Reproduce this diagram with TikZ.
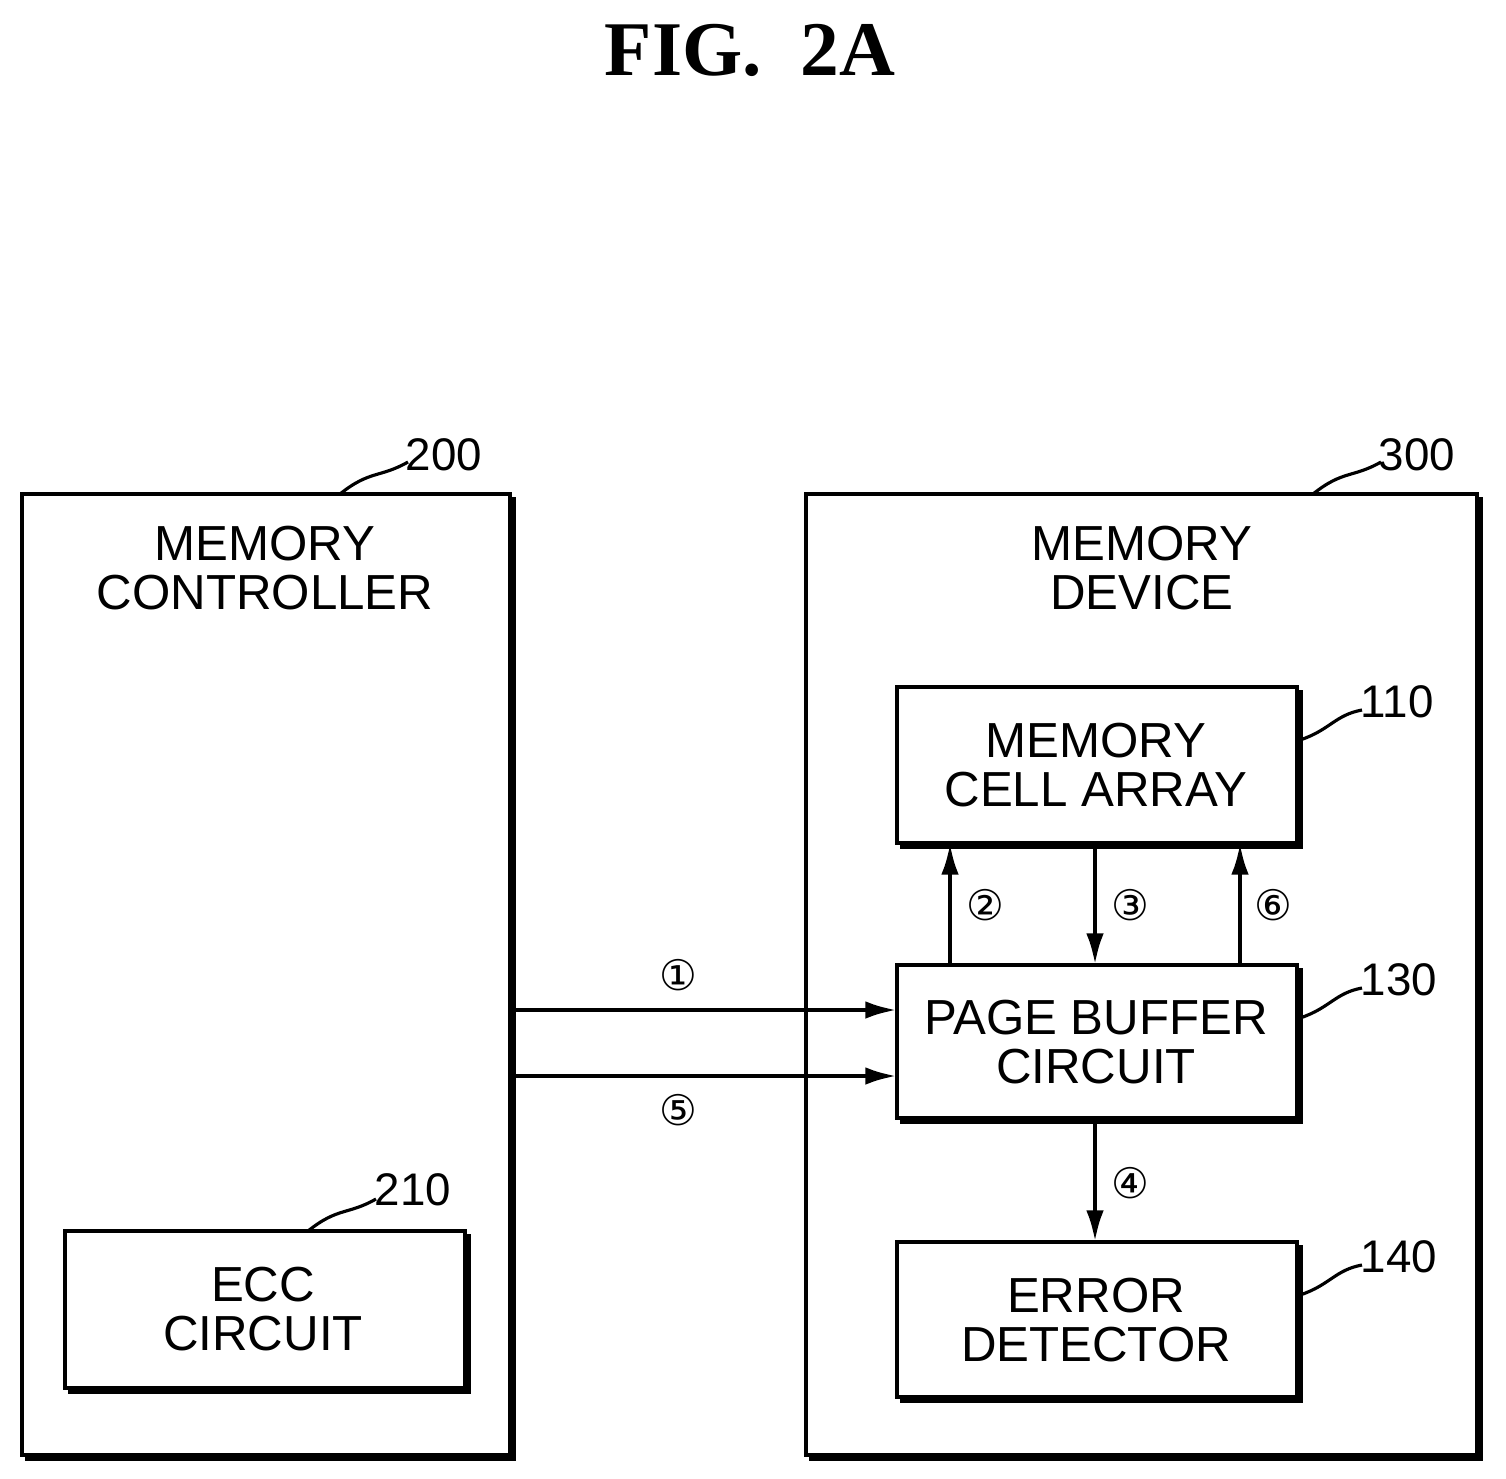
\documentclass[tikz,border=0pt]{standalone}
\usepackage{fontspec}
\setmainfont{Liberation Sans}
\newfontfamily\sym{DejaVu Sans}
\newfontfamily\ttl{Liberation Serif}
\usetikzlibrary{arrows.meta}
\begin{document}
\begin{tikzpicture}[x=0.01cm,y=-0.01cm,
  lbl/.style={font=\fontsize{14}{16}\selectfont,align=center,inner sep=0},
  ref/.style={font=\fontsize{13}{15}\selectfont,inner sep=0},
  num/.style={font=\sym\fontsize{12}{14}\selectfont,inner sep=0},
  ln/.style={line width=1.3pt},
  arr/.style={ln,-{Latex[length=9pt,width=5pt]}},
  lead/.style={line width=0.9pt}]
\useasboundingbox (0,0) rectangle (1506,1479);
\newcommand{\shbox}[5]{% name, x1,y1,x2,y2
  \draw[ln] (#2,#3) rectangle (#4,#5);
  \draw[line width=2.2pt] (#4+2,#3+3) -- (#4+2,#5+2) -- (#2+3,#5+2);
  \coordinate (#1) at (#2,#3);}
\node[font=\ttl\bfseries\fontsize{22}{24}\selectfont] (title) at (750,50) {FIG.\ \ 2A};
\shbox{mc}{22}{494}{510}{1455}
\shbox{md}{806}{494}{1477}{1455}
\shbox{mca}{897}{687}{1297}{843}
\shbox{pb}{897}{965}{1297}{1118}
\shbox{ed}{897}{1242}{1297}{1397}
\shbox{ecc}{65}{1231}{465}{1388}
\node[lbl] (tmc) at (265,568) {MEMORY\\[-2pt]CONTROLLER};
\node[lbl] (tmd) at (1142,568) {MEMORY\\[-2pt]DEVICE};
\node[lbl] (tmca) at (1096,765) {MEMORY\\[-2pt]CELL ARRAY};
\node[lbl] (tpb) at (1096,1042) {PAGE BUFFER\\[-2pt]CIRCUIT};
\node[lbl] (ted) at (1096,1320) {ERROR\\[-2pt]DETECTOR};
\node[lbl] (tecc) at (263,1309) {ECC\\[-2pt]CIRCUIT};
% connectors
\coordinate (a1) at (512,1010); \coordinate (b1) at (897,1010);
\coordinate (a5) at (512,1076); \coordinate (b5) at (897,1076);
\draw[arr] (a1) -- (b1);
\draw[arr] (a5) -- (b5);
\draw[arr] (950,965) -- (950,843);
\draw[arr] (1095,843) -- (1095,965);
\draw[arr] (1240,965) -- (1240,843);
\draw[arr] (1095,1118) -- (1095,1242);
\node[num] (n1) at (678,975) {①};
\node[num] (n5) at (678,1110) {⑤};
\node[num] (n2) at (985,905) {②};
\node[num] (n3) at (1130,905) {③};
\node[num] (n6) at (1273,905) {⑥};
\node[num] (n4) at (1130,1183) {④};
% reference labels
\node[ref,anchor=west] (r200) at (405,455) {200};
\draw[lead] (340,494) .. controls (370,470) and (380,478) .. (408,462);
\node[ref,anchor=west] (r300) at (1378,455) {300};
\draw[lead] (1313,494) .. controls (1343,470) and (1353,478) .. (1381,462);
\node[ref,anchor=west] (r210) at (374,1190) {210};
\draw[lead] (308,1231) .. controls (338,1207) and (348,1215) .. (376,1199);
\node[ref,anchor=west] (r110) at (1360,702) {110};
\draw[lead] (1300,740) .. controls (1330,730) and (1335,715) .. (1362,710);
\node[ref,anchor=west] (r130) at (1360,980) {130};
\draw[lead] (1300,1018) .. controls (1330,1008) and (1335,993) .. (1362,988);
\node[ref,anchor=west] (r140) at (1360,1257) {140};
\draw[lead] (1300,1295) .. controls (1330,1285) and (1335,1270) .. (1362,1265);
\end{tikzpicture}
\end{document}
